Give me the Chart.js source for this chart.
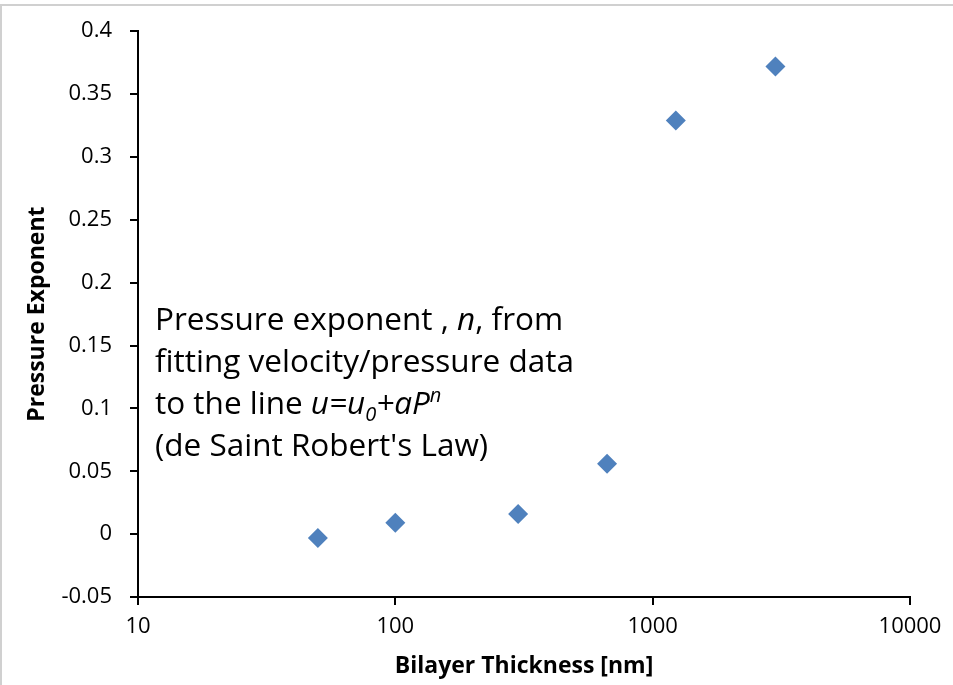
<!DOCTYPE html>
<html>
<head>
<meta charset="utf-8">
<script src="https://cdn.jsdelivr.net/npm/chart.js@4/dist/chart.umd.min.js"></script>
<style>
  html, body { margin: 0; padding: 0; background: #fff; }
  #wrap { position: relative; width: 953px; height: 685px; }
  #frame { position: absolute; left: 0; top: 4px; width: 953px; height: 681px;
           border-top: 2px solid #d0d0d0; border-left: 2px solid #d0d0d0; box-sizing: border-box; pointer-events: none; }
  canvas { position: absolute; left: 0; top: 0; }
</style>
</head>
<body>
<div id="wrap">
  <canvas id="c" width="953" height="685"></canvas>
  <div id="frame"></div>
</div>
<script>
// Bilayer thickness (nm) and fitted pressure exponent n
const thickness = [50, 100, 300, 665, 1230, 3000];
const exponent  = [-0.003, 0.009, 0.016, 0.056, 0.329, 0.372];
const xTicks = [10, 100, 1000, 10000];
const yMin = -0.05, yMax = 0.4, yStep = 0.05;

const FONT = '"Open Sans", "Noto Sans", sans-serif';

// Annotation box: lines made of runs (plain / italic / sub / sup)
const noteLines = [
  [{t: 'Pressure exponent , '}, {t: 'n', i: true}, {t: ', from'}],
  [{t: 'fitting velocity/pressure data'}],
  [{t: 'to the line '}, {t: 'u=u', i: true}, {t: '0', i: true, sub: true}, {t: '+aP', i: true}, {t: 'n', i: true, sup: true}],
  [{t: '(de Saint Robert\'s Law)'}]
];

const notePlugin = {
  id: 'note',
  afterDraw(chart) {
    const ctx = chart.ctx;
    const size = 31.5;
    const x0 = 155, y0 = 330, lh = 42;
    ctx.save();
    ctx.fillStyle = '#000';
    ctx.textBaseline = 'alphabetic';
    ctx.textAlign = 'left';
    noteLines.forEach((runs, k) => {
      let x = x0;
      const y = y0 + k * lh;
      runs.forEach(r => {
        const s = (r.sub || r.sup) ? Math.round(size * 0.65) : size;
        ctx.font = (r.i ? 'italic ' : '') + s + 'px ' + FONT;
        const dy = r.sub ? 7 : (r.sup ? -12 : 0);
        ctx.fillText(r.t, x, y + dy);
        x += ctx.measureText(r.t).width;
      });
    });
    ctx.restore();
  }
};

new Chart(document.getElementById('c'), {
  type: 'scatter',
  data: {
    datasets: [{
      data: thickness.map((t, i) => ({x: t, y: exponent[i]})),
      pointStyle: 'rectRot',
      pointRadius: 10,
      pointHoverRadius: 10,
      backgroundColor: '#4f81bd',
      borderColor: '#4f81bd',
      borderWidth: 0
    }]
  },
  options: {
    responsive: false,
    animation: false,
    devicePixelRatio: 1,
    layout: { padding: { top: 30, right: 43, left: 0, bottom: 0 } },
    plugins: { legend: { display: false }, tooltip: { enabled: false } },
    scales: {
      x: {
        type: 'logarithmic',
        min: 10, max: 10000,
        afterBuildTicks: s => { s.ticks = xTicks.map(v => ({value: v, major: true})); },
        afterFit: s => { s.height = 88; },
        border: { color: '#000', width: 2 },
        grid: { drawOnChartArea: false, drawTicks: true, tickLength: 8, color: '#000', lineWidth: 2 },
        ticks: { color: '#000', font: { family: FONT, size: 22 }, padding: 9, maxRotation: 0,
                 callback: v => String(v) },
        title: { display: true, text: 'Bilayer Thickness [nm]', color: '#000',
                 font: { family: FONT, size: 23, weight: 'bold' }, padding: { top: 0, bottom: 5 } }
      },
      y: {
        min: yMin, max: yMax,
        afterFit: s => { s.width = 138; },
        border: { color: '#000', width: 2 },
        grid: { drawOnChartArea: false, drawTicks: true, tickLength: 8, color: '#000', lineWidth: 2 },
        ticks: { stepSize: yStep, color: '#000', font: { family: FONT, size: 22 }, padding: 18,
                 callback: v => String(parseFloat(Number(v).toFixed(2))) },
        title: { display: true, text: 'Pressure Exponent', color: '#000',
                 font: { family: FONT, size: 23, weight: 'bold' }, padding: { top: 24, bottom: 0 } }
      }
    }
  },
  plugins: [notePlugin]
});
</script>
</body>
</html>
